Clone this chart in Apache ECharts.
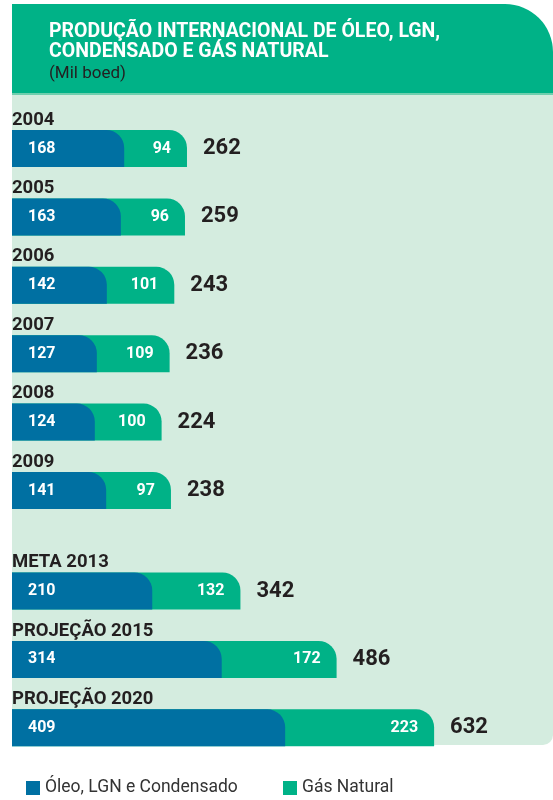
<!DOCTYPE html>
<html>
<head>
<meta charset="utf-8">
<script src="https://cdn.jsdelivr.net/npm/echarts@6/dist/echarts.min.js"></script>
<style>
html, body { margin: 0; padding: 0; background: #fff; }
#chart { width: 553px; height: 800px; }
</style>
</head>
<body>
<div id="chart"></div>
<script>
// historico
var years = ['2004', '2005', '2006', '2007', '2008', '2009'];
var oleo = [168, 163, 142, 127, 124, 141];
var gas = [94, 96, 101, 109, 100, 97];

// meta / projecoes
var metas = ['META 2013', 'PROJEÇÃO 2015', 'PROJEÇÃO 2020'];
var oleoMeta = [210, 314, 409];
var gasMeta = [132, 172, 223];

var BLUE = '#0070a2';
var GREEN = '#00b287';
var FONT = 'Roboto';

function sum(a, b) {
    return a.map(function(v, i) { return v + b[i]; });
}

function makeSeries(idx, o, g) {
    var total = sum(o, g);
    return [{
        name: 'Gás Natural',
        type: 'bar',
        xAxisIndex: idx,
        yAxisIndex: idx,
        barWidth: 37,
        barGap: '-100%',
        data: total,
        itemStyle: { color: GREEN, borderRadius: [0, 18, 0, 0] },
        label: {
            show: true,
            position: 'insideRight',
            distance: 16,
            color: '#fff',
            fontFamily: FONT,
            fontWeight: 'bold',
            fontSize: 16,
            formatter: function(p) { return g[p.dataIndex]; }
        }
    }, {
        name: 'Óleo, LGN e Condensado',
        type: 'bar',
        xAxisIndex: idx,
        yAxisIndex: idx,
        barWidth: 37,
        barGap: '-100%',
        data: o,
        itemStyle: { color: BLUE, borderRadius: [0, 18, 0, 0] },
        label: {
            show: true,
            position: 'insideLeft',
            distance: 16,
            color: '#fff',
            fontFamily: FONT,
            fontWeight: 'bold',
            fontSize: 16
        }
    }, {
        name: 'total',
        type: 'bar',
        xAxisIndex: idx,
        yAxisIndex: idx,
        barWidth: 37,
        barGap: '-100%',
        data: total,
        silent: true,
        itemStyle: { color: 'rgba(0,0,0,0)' },
        label: {
            show: true,
            position: 'right',
            distance: 16,
            color: '#231f20',
            fontFamily: FONT,
            fontWeight: 'bold',
            fontSize: 22
        }
    }];
}

function catAxis(idx, cats) {
    return {
        type: 'category',
        gridIndex: idx,
        inverse: true,
        z: 10,
        data: cats,
        axisLine: { show: false },
        axisTick: { show: false },
        axisLabel: {
            show: true,
            interval: 0,
            hideOverlap: false,
            inside: true,
            margin: 0,
            verticalAlign: 'middle',
            formatter: function(v) { return '{a|' + v + '}\n{b| }'; },
            rich: {
                a: {
                    color: '#231f20',
                    fontFamily: FONT,
                    fontWeight: 'bold',
                    fontSize: 18.5,
                    height: 20
                },
                b: { fontSize: 10, height: 57 }
            }
        }
    };
}

function valAxis(idx) {
    return {
        type: 'value',
        gridIndex: idx,
        min: 0,
        max: 810,
        axisLine: { show: false },
        axisTick: { show: false },
        axisLabel: { show: false },
        splitLine: { show: false }
    };
}

var chart = echarts.init(document.getElementById('chart'));

var option = {
    animation: false,
    backgroundColor: '#fff',
    graphic: [{
        type: 'rect',
        z: -10,
        shape: { x: 12, y: 94, width: 541, height: 651, r: [0, 0, 10, 0] },
        style: { fill: '#d4ecdf' }
    }, {
        type: 'rect',
        z: -9,
        shape: { x: 12, y: 4, width: 541, height: 90, r: [0, 48, 0, 0] },
        style: { fill: GREEN }
    }, {
        type: 'rect',
        z: -8,
        shape: { x: 12, y: 93, width: 541, height: 2 },
        style: { fill: '#6fcfae' }
    }],
    title: {
        text: 'PRODUÇÃO INTERNACIONAL DE ÓLEO, LGN,\nCONDENSADO E GÁS NATURAL',
        subtext: '(Mil boed)',
        left: 49,
        top: 22,
        padding: 0,
        itemGap: 2,
        textStyle: {
            color: '#fff',
            fontFamily: FONT,
            fontWeight: 'bold',
            fontSize: 19.5,
            lineHeight: 20
        },
        subtextStyle: {
            color: '#231f20',
            fontFamily: FONT,
            fontSize: 17,
            lineHeight: 20
        }
    },
    legend: [{
        data: ['Óleo, LGN e Condensado'],
        left: 26,
        top: 779,
        padding: 0,
        icon: 'rect',
        itemWidth: 14,
        itemHeight: 14,
        itemGap: 10,
        textStyle: { color: '#333', fontFamily: FONT, fontSize: 17.5 }
    }, {
        data: ['Gás Natural'],
        left: 283,
        top: 779,
        padding: 0,
        icon: 'rect',
        itemWidth: 14,
        itemHeight: 14,
        itemGap: 10,
        textStyle: { color: '#333', fontFamily: FONT, fontSize: 17.5 }
    }],
    grid: [
        { left: 12, right: 0, top: 114.3, height: 410.4 },
        { left: 12, right: 0, top: 556.8, height: 205.2 }
    ],
    xAxis: [valAxis(0), valAxis(1)],
    yAxis: [catAxis(0, years), catAxis(1, metas)],
    series: makeSeries(0, oleo, gas).concat(makeSeries(1, oleoMeta, gasMeta))
};

chart.setOption(option);
</script>
</body>
</html>
